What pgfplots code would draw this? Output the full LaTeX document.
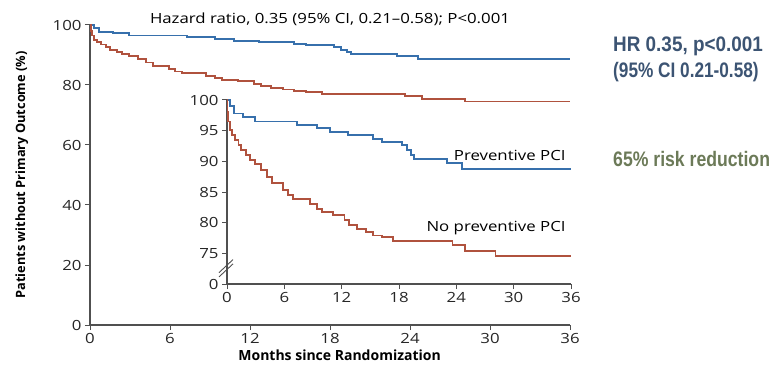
\documentclass[border=0pt]{standalone}
\usepackage{fontspec}
\setmainfont{Open Sans}[FakeStretch=1.2]
\newfontfamily\plainfont{Open Sans}
\newfontfamily\narrowA[FakeStretch=0.9]{Liberation Sans}
\newfontfamily\narrowB[FakeStretch=0.82]{Liberation Sans}
\newfontfamily\narrowC[FakeStretch=0.84]{Liberation Sans}
\usepackage{pgfplots}
\pgfplotsset{compat=1.18}
\definecolor{kmblue}{RGB}{55,112,172}
\definecolor{kmred}{RGB}{176,82,62}
\definecolor{axgray}{RGB}{80,80,80}
\definecolor{hrblue}{RGB}{60,84,115}
\definecolor{rrgreen}{RGB}{108,122,88}

\pgfplotstableread{
m v
0 100
0.3 99.0
0.7 97.8
1.7 97.3
2.9 96.5
7.3 95.9
9.4 95.4
10.8 94.8
12.7 94.3
15.3 93.7
16.2 93.2
18.3 92.6
18.8 91.8
19.3 91.0
19.6 90.4
23.0 89.7
24.6 88.8
36 88.8
}\pci

\pgfplotstableread{
m v
0 100
0.05 98.0
0.15 96.5
0.3 95.1
0.55 94.3
0.84 93.5
1.2 92.6
1.5 91.8
2.0 91.0
2.4 90.2
2.9 89.6
3.6 88.6
4.2 87.5
4.7 86.4
5.9 85.3
6.4 84.5
6.9 83.9
8.7 83.1
9.4 82.3
9.9 81.8
11.1 81.2
12.3 80.4
12.8 79.6
13.6 79.0
14.5 78.5
15.3 77.9
16.2 77.6
17.4 77.0
23.6 76.3
24.9 75.4
28.1 74.5
36 74.5
}\nopci

\pgfplotsset{
  kmaxis/.style={
    scale only axis, clip=false,
    xmin=0, xmax=36,
    axis lines=left,
    axis line style={-, draw=axgray, line width=1.2pt},
    tick align=outside, major tick length=5pt,
    tick style={axgray, line width=1pt},
    xtick={0,6,...,36},
    ticklabel style={font=\fontsize{14}{16}\selectfont, text=black!85},
    /pgf/number format/assume math mode=true,
  },
  blueline/.style={kmblue, line width=1.9pt, const plot mark left, no marks},
  redline/.style={kmred, line width=1.9pt, const plot mark left, no marks},
}

\begin{document}
\begin{tikzpicture}[x=1pt,y=1pt]
\useasboundingbox (0,0) rectangle (773,383);
\begin{axis}[kmaxis,
  at={(90pt,58pt)}, anchor=south west,
  width=480pt, height=300pt,
  ymin=0, ymax=100, ytick={0,20,...,100},
  xlabel={\bfseries Months since Randomization},
  xlabel style={at={(axis description cs:0.52,-0.1)}, anchor=center, font=\plainfont\fontsize{14}{16}\selectfont},
  ylabel={\bfseries Patients without Primary Outcome (\%)},
  ylabel style={at={(axis description cs:-0.142,0.5)}, anchor=center, font=\plainfont\fontsize{12.8}{15}\selectfont},
  title={Hazard ratio, 0.35 (95\% CI, 0.21–0.58); P<0.001},
  title style={at={(axis description cs:0.5,1.0)}, anchor=center, font=\fontsize{14}{16}\selectfont},
]
\addplot[blueline] table[x=m,y=v] {\pci};
\addplot[redline] table[x=m,y=v] {\nopci};
\end{axis}

\begin{axis}[kmaxis,
  at={(227pt,99pt)}, anchor=south west,
  width=344pt, height=184pt,
  ymin=70, ymax=100, ytick={70,75,...,100},
  yticklabels={0,75,80,85,90,95,100},
]
\addplot[blueline] table[x=m,y=v] {\pci};
\addplot[redline] table[x=m,y=v] {\nopci};
\draw[axgray, line width=0.9pt] ([xshift=-8pt,yshift=-7pt]axis cs:0,72.3) -- ([xshift=6pt,yshift=6pt]axis cs:0,72.3);
\draw[axgray, line width=0.9pt] ([xshift=-8pt,yshift=-7pt]axis cs:0,73.0) -- ([xshift=6pt,yshift=6pt]axis cs:0,73.0);
\node[anchor=east, font=\fontsize{14}{16}\selectfont] at (axis cs:35.8,91.0) {Preventive PCI};
\node[anchor=east, font=\fontsize{14}{16}\selectfont] at (axis cs:35.8,79.1) {No preventive PCI};
\end{axis}

\node[anchor=base west, text=hrblue, font=\narrowA\bfseries\fontsize{21}{24}\selectfont, inner sep=0pt] at (613,331) {HR 0.35, p<0.001};
\node[anchor=base west, text=hrblue, font=\narrowB\bfseries\fontsize{21}{24}\selectfont, inner sep=0pt] at (613,305) {(95\% CI 0.21-0.58)};
\node[anchor=base west, text=rrgreen, font=\narrowC\bfseries\fontsize{21}{24}\selectfont, inner sep=0pt] at (613,216) {65\% risk reduction};
\end{tikzpicture}
\end{document}
